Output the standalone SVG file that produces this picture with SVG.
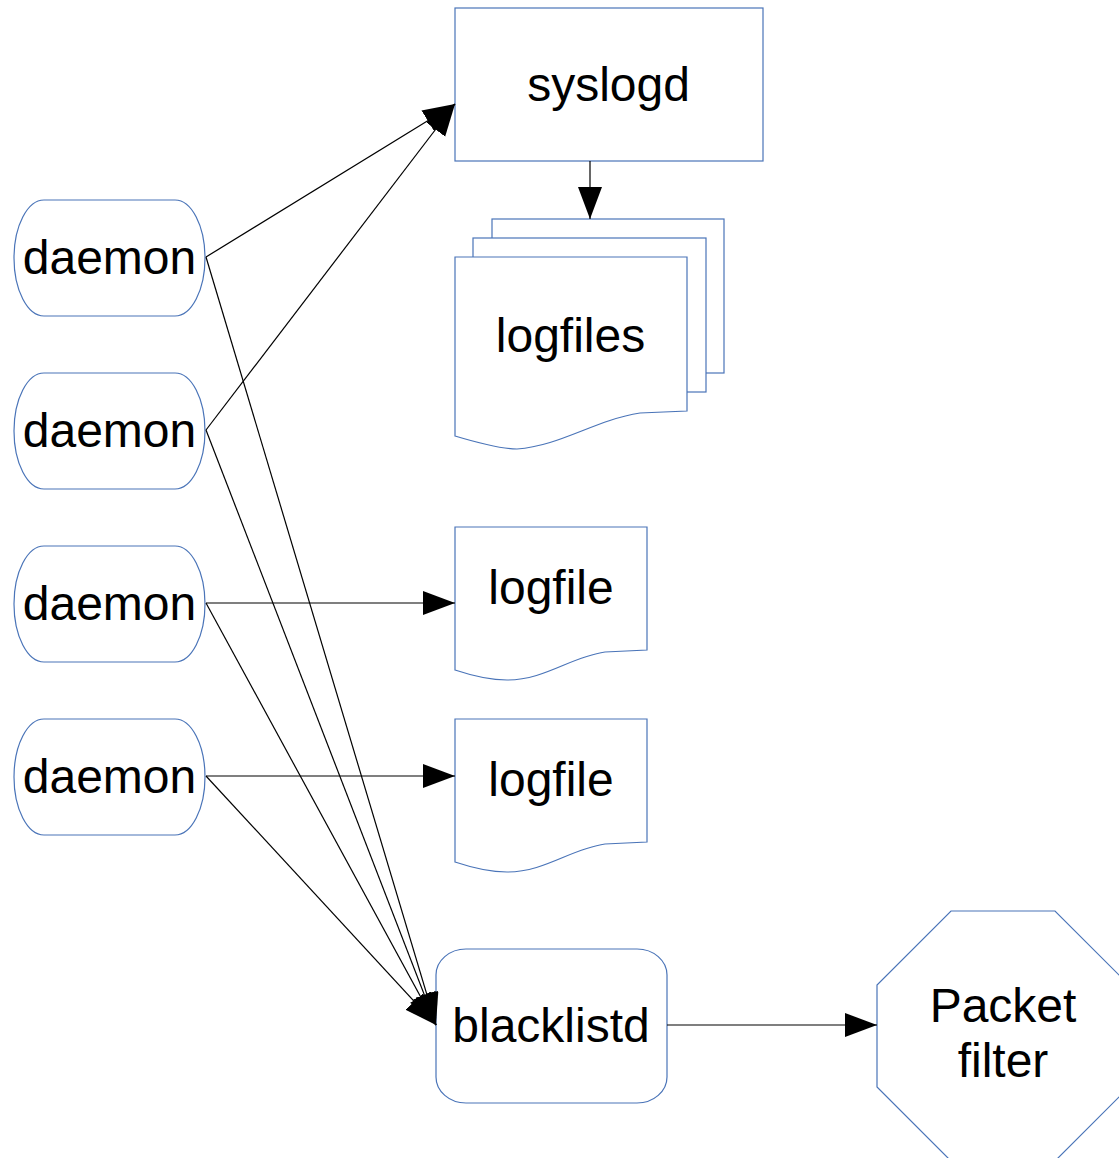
<svg xmlns="http://www.w3.org/2000/svg" width="1119" height="1158" viewBox="0 0 1119 1158">
<style>
.n{fill:#fff;stroke:#4a74b8;stroke-width:1.2}
.t{font-family:"Liberation Sans",Arial,sans-serif;font-size:48px;fill:#000;text-anchor:middle}
.c{stroke:#000;stroke-width:1.2;fill:none;marker-end:url(#ah)}
</style>
<defs>
<marker id="ah" markerUnits="userSpaceOnUse" markerWidth="34" markerHeight="26" refX="32" refY="12" orient="auto">
<path d="M0,0 L32,12 L0,24 z" fill="#000"/>
</marker>
</defs>
<rect width="1119" height="1158" fill="#fff"/>
<g id="syslogd"><rect class="n" x="455" y="8" width="308" height="153"/><text class="t" x="608.5" y="101">syslogd</text></g>
<g id="logfiles">
<rect class="n" x="492" y="219" width="232" height="154"/>
<rect class="n" x="473" y="238" width="233" height="154"/>
<path class="n" d="M455,257 L687,257 L687,411 L640,413 C595,420 560,446 517,449 C500,449 475,442 455,436 Z"/>
<text class="t" x="570.5" y="352">logfiles</text></g>
<g id="logfile1"><path class="n" d="M455,527 L647,527 L647,650 L605,652 C570,657 545,680 507,680 C490,680 470,675 455,670 Z"/><text class="t" x="551" y="604">logfile</text></g>
<g id="logfile2"><path class="n" d="M455,719 L647,719 L647,842 L605,844 C570,849 545,872 507,872 C490,872 470,867 455,862 Z"/><text class="t" x="551" y="796">logfile</text></g>
<g id="daemon1"><rect class="n" x="14" y="200" width="191" height="116" rx="30" ry="58"/><text class="t" x="109.5" y="274">daemon</text></g>
<g id="daemon2"><rect class="n" x="14" y="373" width="191" height="116" rx="30" ry="58"/><text class="t" x="109.5" y="447">daemon</text></g>
<g id="daemon3"><rect class="n" x="14" y="546" width="191" height="116" rx="30" ry="58"/><text class="t" x="109.5" y="620">daemon</text></g>
<g id="daemon4"><rect class="n" x="14" y="719" width="191" height="116" rx="30" ry="58"/><text class="t" x="109.5" y="793">daemon</text></g>
<g id="blacklistd"><rect class="n" x="436" y="949" width="231" height="154" rx="30" ry="26"/><text class="t" x="551" y="1042">blacklistd</text></g>
<g id="packetfilter"><polygon class="n" points="951,911 1055,911 1129,985 1129,1087 1055,1161 951,1161 877,1087 877,985"/><text class="t" x="1003" y="1022">Packet</text><text class="t" x="1003" y="1077">filter</text></g>
<g id="connectors">
<line class="c" x1="206" y1="257" x2="455" y2="104"/>
<line class="c" x1="206" y1="430" x2="455" y2="104"/>
<line class="c" x1="590" y1="161" x2="590" y2="219"/>
<line class="c" x1="206" y1="257" x2="436" y2="1025"/>
<line class="c" x1="206" y1="430" x2="436" y2="1025"/>
<line class="c" x1="206" y1="603" x2="436" y2="1025"/>
<line class="c" x1="206" y1="776" x2="436" y2="1025"/>
<line class="c" x1="206" y1="603" x2="455" y2="603"/>
<line class="c" x1="206" y1="776" x2="455" y2="776"/>
<line class="c" x1="667" y1="1025" x2="877" y2="1025"/>
</g>
</svg>
